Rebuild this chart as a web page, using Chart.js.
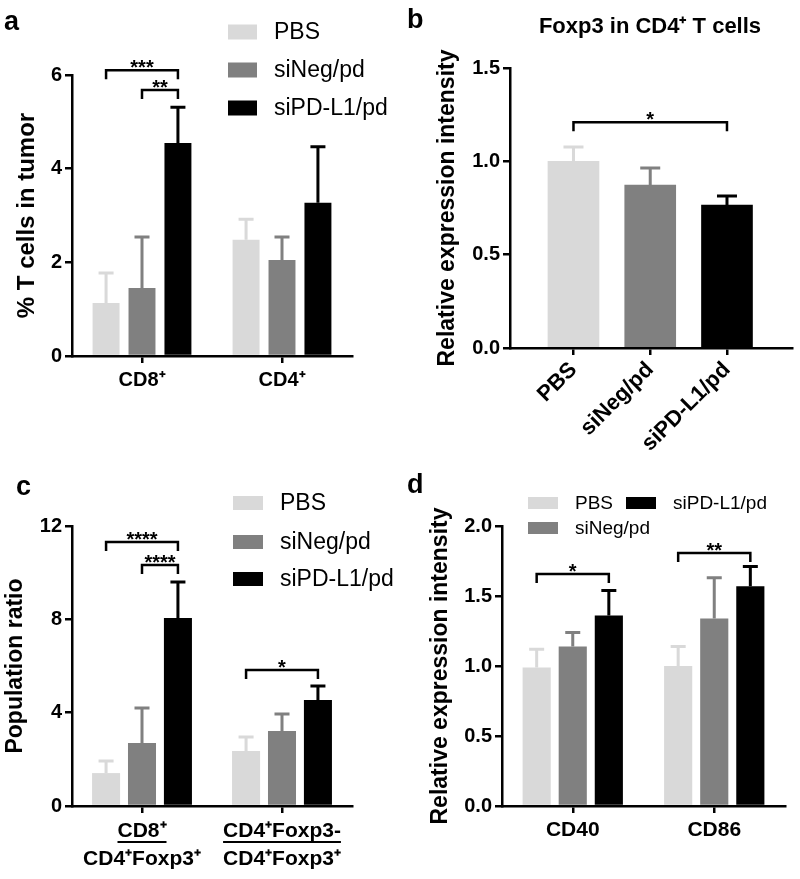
<!DOCTYPE html>
<html>
<head>
<meta charset="utf-8">
<title>T cell figure</title>
<script src="https://cdn.jsdelivr.net/npm/chart.js@4.4.1/dist/chart.umd.min.js"></script>
<style>
  body { margin: 0; background: #fff; }
  #figure { position: relative; width: 800px; height: 879px; }
  #figure canvas { position: absolute; left: 0; top: 0; }
</style>
</head>
<body>
<div id="figure">
  <canvas id="panel-a" width="800" height="879"></canvas>
  <canvas id="panel-b" width="800" height="879"></canvas>
  <canvas id="panel-c" width="800" height="879"></canvas>
  <canvas id="panel-d" width="800" height="879"></canvas>
</div>
<script>
const groups = ['PBS', 'siNeg/pd', 'siPD-L1/pd'];
const groupColors = ['#d9d9d9', '#808080', '#000000'];

// a: % T cells in tumor
const tcellLabels = ['CD8⁺', 'CD4⁺'];
const tcellMean = [[1.13, 2.48], [1.45, 2.05], [4.55, 3.27]];
const tcellErr = [[0.64, 0.44], [1.09, 0.49], [0.76, 1.20]];
const tcellTicks = [0, 2, 4, 6];
const tcellBrackets = [[0, 0, 2, 6.1, '***'], [0, 1, 2, 5.68, '**']];

// b: Foxp3 in CD4+ T cells
const foxp3Labels = ['PBS', 'siNeg/pd', 'siPD-L1/pd'];
const foxp3Mean = [1.0, 0.873, 0.766];
const foxp3Err = [0.077, 0.091, 0.048];
const foxp3Ticks = [0, 0.5, 1.0, 1.5];
const foxp3Brackets = [[0, 0, 2, 1.21, '*']];

// c: population ratio
const ratioLabels = [['CD8⁺', 'CD4⁺Foxp3⁺'], ['CD4⁺Foxp3-', 'CD4⁺Foxp3⁺']];
const ratioMean = [[1.41, 2.36], [2.70, 3.21], [8.06, 4.54]];
const ratioErr = [[0.52, 0.60], [1.50, 0.73], [1.54, 0.60]];
const ratioTicks = [0, 4, 8, 12];
const ratioBrackets = [[0, 0, 2, 11.31, '****'], [0, 1, 2, 10.33, '****'], [1, 0, 2, 5.83, '*']];

// d: CD40 / CD86
const markerLabels = ['CD40', 'CD86'];
const markerMean = [[0.99, 1.0], [1.14, 1.34], [1.36, 1.57]];
const markerErr = [[0.13, 0.14], [0.10, 0.29], [0.18, 0.14]];
const markerTicks = [0, 0.5, 1.0, 1.5, 2.0];
const markerBrackets = [[0, 0, 2, 1.657, '*'], [1, 0, 2, 1.807, '**']];

const FONT = "'Liberation Sans', Arial, sans-serif";
Chart.defaults.font.family = FONT;
Chart.defaults.color = '#000';

// x position of a bar: grouped panels have one dataset per group
const barX = (chart, cat, g) => chart.data.datasets.length > 1
    ? chart.getDatasetMeta(g).data[cat].x
    : chart.getDatasetMeta(0).data[g].x;

const figurePlugin = {
    id: 'figure',
    afterDatasetsDraw(chart, args, opts) {
        const { ctx } = chart;
        const y = chart.scales.y;
        ctx.save();
        ctx.lineWidth = 3;
        chart.data.datasets.forEach((ds, i) => {
            chart.getDatasetMeta(i).data.forEach((bar, j) => {
                const v = ds.data[j];
                const mean = typeof v === 'object' ? v.y : v;
                const top = y.getPixelForValue(mean + ds.errors[j]);
                ctx.strokeStyle = Array.isArray(ds.backgroundColor) ? ds.backgroundColor[j] : ds.backgroundColor;
                ctx.beginPath();
                ctx.moveTo(bar.x, bar.y);
                ctx.lineTo(bar.x, top);
                ctx.moveTo(bar.x - opts.cap / 2, top);
                ctx.lineTo(bar.x + opts.cap / 2, top);
                ctx.stroke();
            });
        });
        ctx.restore();
    },
    afterDraw(chart, args, opts) {
        const { ctx } = chart;
        const y = chart.scales.y;
        ctx.save();

        // significance brackets
        ctx.strokeStyle = '#000';
        ctx.fillStyle = '#000';
        ctx.lineWidth = 2.5;
        ctx.textAlign = 'center';
        ctx.textBaseline = 'alphabetic';
        ctx.font = 'bold 20px ' + FONT;
        (opts.brackets || []).forEach(([cat, from, to, level, stars]) => {
            const x1 = barX(chart, cat, from);
            const x2 = barX(chart, cat, to);
            const py = y.getPixelForValue(level);
            ctx.beginPath();
            ctx.moveTo(x1, py + 9);
            ctx.lineTo(x1, py);
            ctx.lineTo(x2, py);
            ctx.lineTo(x2, py + 9);
            ctx.stroke();
            ctx.fillText(stars, (x1 + x2) / 2, py + 4);
        });

        // legend
        if (opts.legend) {
            const lg = opts.legend;
            ctx.textAlign = 'left';
            ctx.textBaseline = 'middle';
            ctx.font = lg.size + 'px ' + FONT;
            lg.items.forEach(([lx, ly], i) => {
                const ds = chart.data.datasets[i];
                ctx.fillStyle = ds.backgroundColor;
                ctx.fillRect(lx, ly - lg.box[1] / 2, lg.box[0], lg.box[1]);
                ctx.fillStyle = '#000';
                ctx.fillText(ds.label, lx + lg.box[0] + lg.gap, ly + 1);
            });
        }

        // underline of the numerator in fraction labels
        if (opts.underline) {
            const x = chart.scales.x;
            ctx.font = 'bold ' + opts.underline.size + 'px ' + FONT;
            ctx.lineWidth = 2;
            chart.data.labels.forEach((lab, i) => {
                const cx = x.getPixelForTick(i);
                const w = ctx.measureText(lab[0]).width;
                ctx.beginPath();
                ctx.moveTo(cx - w / 2, opts.underline.y);
                ctx.lineTo(cx + w / 2, opts.underline.y);
                ctx.stroke();
            });
        }

        // panel title
        if (opts.title) {
            const [text, tx, ty, size] = opts.title;
            ctx.fillStyle = '#000';
            ctx.textAlign = 'center';
            ctx.textBaseline = 'middle';
            ctx.font = 'bold ' + size + 'px ' + FONT;
            ctx.fillText(text, tx, ty);
        }

        // panel letter
        const [letter, lx, ly] = opts.letter;
        ctx.fillStyle = '#000';
        ctx.textAlign = 'left';
        ctx.textBaseline = 'alphabetic';
        ctx.font = 'bold 27px ' + FONT;
        ctx.fillText(letter, lx, ly);
        ctx.restore();
    }
};

const axisGrid = { display: true, drawOnChartArea: false, offset: false, tickLength: 7, lineWidth: 2.5, color: '#000' };
const axisBorder = { display: true, color: '#000', width: 2.5 };

// chart area is pinned in page coordinates via padding + fixed scale sizes
const createPanel = (id, p) => new Chart(document.getElementById(id), {
    type: 'bar',
    data: { labels: p.labels, datasets: p.datasets },
    options: {
        responsive: false,
        animation: false,
        events: [],
        layout: { padding: { left: p.left, top: p.area.top, right: 800 - p.area.right, bottom: 0 } },
        scales: {
            x: Object.assign({
                grid: axisGrid,
                border: axisBorder,
                ticks: {
                    color: '#000',
                    font: p.xFont,
                    padding: p.xPad,
                    autoSkip: false,
                    maxRotation: p.rot,
                    minRotation: p.rot,
                    callback: function (v, i) {
                        return p.xLabels ? p.xLabels[i] : this.getLabelForValue(v);
                    }
                },
                afterFit: s => { s.height = 879 - p.area.bottom; }
            }, p.x || {}),
            y: {
                min: 0,
                max: p.ticks[p.ticks.length - 1],
                afterBuildTicks: s => { s.ticks = p.ticks.map(v => ({ value: v })); },
                grid: axisGrid,
                border: axisBorder,
                ticks: {
                    color: '#000',
                    font: { size: p.tickSize, weight: 'bold' },
                    padding: 3,
                    callback: v => v.toFixed(p.dec)
                },
                title: {
                    display: true,
                    text: p.yTitle,
                    color: '#000',
                    font: { size: p.titleSize, weight: 'bold' },
                    padding: { top: p.titlePad, bottom: 0 }
                },
                afterFit: s => { s.width = p.area.left - p.left; }
            }
        },
        plugins: {
            legend: { display: false },
            tooltip: { enabled: false },
            figure: p.extras
        }
    },
    plugins: [figurePlugin]
});

const groupedSets = (means, errs, catPct, barPct) => groups.map((g, i) => ({
    label: g,
    data: means[i],
    errors: errs[i],
    backgroundColor: groupColors[i],
    categoryPercentage: catPct,
    barPercentage: barPct
}));

// a
createPanel('panel-a', {
    left: 0,
    area: { left: 72, top: 75, right: 352, bottom: 356 },
    labels: tcellLabels,
    datasets: groupedSets(tcellMean, tcellErr, 0.77, 0.75),
    ticks: tcellTicks, dec: 0, tickSize: 20,
    yTitle: '% T cells in tumor', titleSize: 24, titlePad: 13,
    xFont: { size: 20, weight: 'bold' }, xPad: 5, rot: 0,
    extras: {
        cap: 15,
        brackets: tcellBrackets,
        letter: ['a', 4, 30],
        legend: { items: [[228, 32], [228, 70], [228, 108]], box: [29, 15], gap: 17, size: 23 }
    }
});

// b
createPanel('panel-b', {
    left: 400,
    area: { left: 510, top: 68, right: 792, bottom: 348 },
    datasets: [{
        label: 'Foxp3',
        data: foxp3Mean.map((v, i) => ({ x: i, y: v })),
        errors: foxp3Err,
        backgroundColor: groupColors,
        barThickness: 51
    }],
    xLabels: foxp3Labels,
    x: {
        type: 'linear',
        min: -0.827,
        max: 2.847,
        offset: false,
        afterBuildTicks: s => { s.ticks = foxp3Labels.map((_, i) => ({ value: i })); }
    },
    ticks: foxp3Ticks, dec: 1, tickSize: 20,
    yTitle: 'Relative expression intensity', titleSize: 23, titlePad: 34,
    xFont: { size: 22, weight: 'bold' }, xPad: 2, rot: 45,
    extras: {
        cap: 20,
        brackets: foxp3Brackets,
        letter: ['b', 407, 28],
        title: ['Foxp3 in CD4⁺ T cells', 650, 27, 22]
    }
});

// c
createPanel('panel-c', {
    left: 0,
    area: { left: 72, top: 526, right: 352, bottom: 806 },
    labels: ratioLabels,
    datasets: groupedSets(ratioMean, ratioErr, 0.77, 0.78),
    ticks: ratioTicks, dec: 0, tickSize: 20,
    yTitle: 'Population ratio', titleSize: 23, titlePad: 2,
    xFont: { size: 21, weight: 'bold', lineHeight: 1.3 }, xPad: 5, rot: 0,
    extras: {
        cap: 15,
        brackets: ratioBrackets,
        letter: ['c', 16, 495],
        underline: { y: 842, size: 21 },
        legend: { items: [[233, 503], [233, 542], [233, 579]], box: [30, 14], gap: 17, size: 23 }
    }
});

// d
createPanel('panel-d', {
    left: 400,
    area: { left: 502, top: 526, right: 785, bottom: 806 },
    labels: markerLabels,
    datasets: groupedSets(markerMean, markerErr, 0.765, 0.78),
    ticks: markerTicks, dec: 1, tickSize: 20,
    yTitle: 'Relative expression intensity', titleSize: 23, titlePad: 27,
    xFont: { size: 21, weight: 'bold' }, xPad: 5, rot: 0,
    extras: {
        cap: 15,
        brackets: markerBrackets,
        letter: ['d', 407, 493],
        legend: { items: [[528, 503], [528, 528], [626, 503]], box: [30, 12], gap: 17, size: 19 }
    }
});
</script>
</body>
</html>
